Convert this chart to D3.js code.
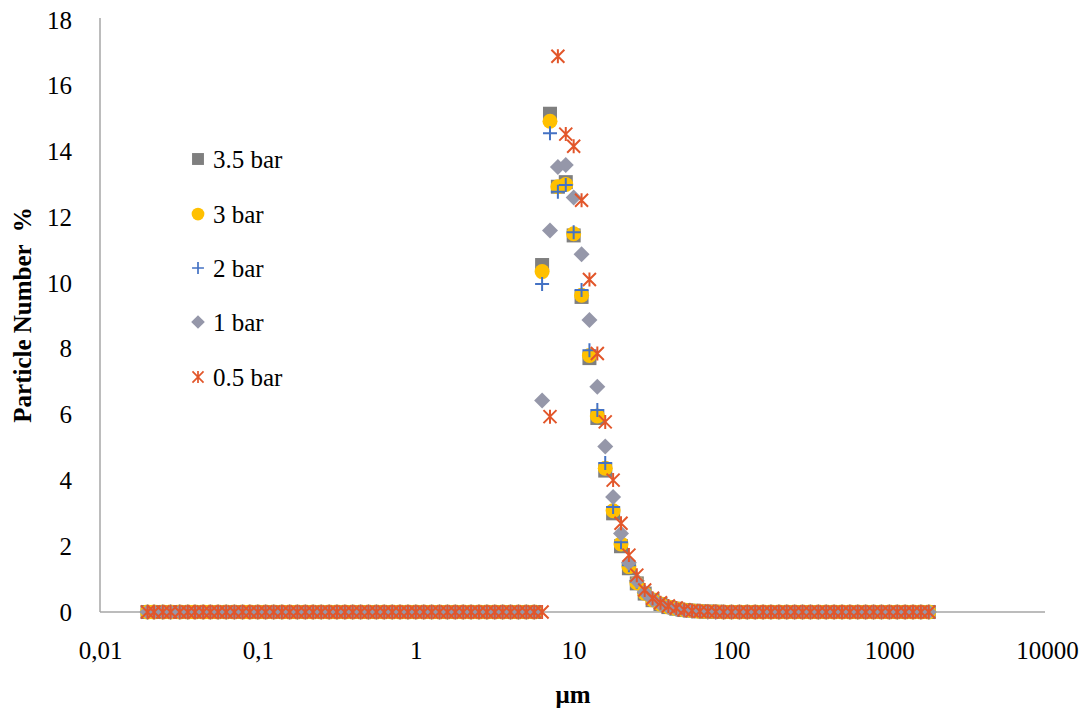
<!DOCTYPE html>
<html>
<head>
<meta charset="utf-8">
<script src="https://cdn.jsdelivr.net/npm/d3@7"></script>
<style>
  body { margin: 0; background: #fff; }
  svg text { font-family: "Liberation Serif", "Times New Roman", serif; fill: #000; }
</style>
</head>
<body>
<svg id="chart" width="1086" height="711"></svg>
<script>
// ---- data ----
const sizes = [
  0.020,0.022,0.025,0.028,0.032,0.036,0.040,0.045,0.050,0.056,
  0.063,0.071,0.080,0.089,0.100,0.112,0.126,0.142,0.159,0.178,
  0.200,0.224,0.252,0.283,0.317,0.356,0.399,0.448,0.502,0.564,
  0.632,0.710,0.796,0.893,1.002,1.125,1.262,1.416,1.589,1.783,
  2.000,2.244,2.518,2.825,3.170,3.557,3.991,4.477,5.024,5.637,
  6.325,7.096,7.962,8.934,10.024,11.247,12.619,14.159,15.887,17.825,
  20.000,22.440,25.179,28.251,31.698,35.566,39.905,44.774,50.238,56.368,
  63.246,70.963,79.621,89.337,100.237,112.468,126.191,141.589,158.866,178.250,
  200.000,224.404,251.785,282.508,316.979,355.656,399.052,447.744,502.377,563.677,
  632.456,709.627,796.214,893.367,1002.374,1124.683,1261.915,1415.892,1588.656,1782.502
];
const bar35 = [
  0,0,0,0,0,0,0,0,0,0, 0,0,0,0,0,0,0,0,0,0, 0,0,0,0,0,0,0,0,0,0, 0,0,0,0,0,0,0,0,0,0, 0,0,0,0,0,0,0,0,0,0,
  10.55,15.15,12.93,13.07,11.45,9.58,7.72,5.90,4.30,3.00,
  2.00,1.33,0.87,0.56,0.36,0.24,0.15,0.10,0.06,0.04,
  0.02,0.01,0.01,0,0,0,0,0,0,0, 0,0,0,0,0,0,0,0,0,0, 0,0,0,0,0,0,0,0,0,0
];
const bar3 = [
  0,0,0,0,0,0,0,0,0,0, 0,0,0,0,0,0,0,0,0,0, 0,0,0,0,0,0,0,0,0,0, 0,0,0,0,0,0,0,0,0,0, 0,0,0,0,0,0,0,0,0,0,
  10.35,14.92,12.93,13.00,11.50,9.63,7.80,5.96,4.37,3.08,
  2.07,1.38,0.89,0.57,0.37,0.24,0.15,0.10,0.06,0.04,
  0.02,0.01,0.01,0,0,0,0,0,0,0, 0,0,0,0,0,0,0,0,0,0, 0,0,0,0,0,0,0,0,0,0
];
const bar2 = [
  0,0,0,0,0,0,0,0,0,0, 0,0,0,0,0,0,0,0,0,0, 0,0,0,0,0,0,0,0,0,0, 0,0,0,0,0,0,0,0,0,0, 0,0,0,0,0,0,0,0,0,0,
  9.97,14.56,12.78,12.98,11.55,9.79,7.96,6.14,4.53,3.19,
  2.12,1.42,0.92,0.59,0.38,0.25,0.16,0.10,0.06,0.04,
  0.02,0.01,0.01,0,0,0,0,0,0,0, 0,0,0,0,0,0,0,0,0,0, 0,0,0,0,0,0,0,0,0,0
];
const bar1 = [
  0,0,0,0,0,0,0,0,0,0, 0,0,0,0,0,0,0,0,0,0, 0,0,0,0,0,0,0,0,0,0, 0,0,0,0,0,0,0,0,0,0, 0,0,0,0,0,0,0,0,0,0,
  6.43,11.60,13.53,13.59,12.60,10.88,8.88,6.85,5.03,3.50,
  2.39,1.50,0.95,0.60,0.38,0.24,0.15,0.09,0.05,0.03,
  0.02,0.01,0,0,0,0,0,0,0,0, 0,0,0,0,0,0,0,0,0,0, 0,0,0,0,0,0,0,0,0,0
];
const bar05 = [
  0,0,0,0,0,0,0,0,0,0, 0,0,0,0,0,0,0,0,0,0, 0,0,0,0,0,0,0,0,0,0, 0,0,0,0,0,0,0,0,0,0, 0,0,0,0,0,0,0,0,0,0,
  0,5.94,16.90,14.53,14.16,12.52,10.11,7.86,5.78,4.01,
  2.70,1.73,1.12,0.67,0.42,0.28,0.18,0.12,0.07,0.04,
  0.025,0.015,0.01,0,0,0,0,0,0,0, 0,0,0,0,0,0,0,0,0,0, 0,0,0,0,0,0,0,0,0,0
];
const seriesNames = ["3.5 bar", "3 bar", "2 bar", "1 bar", "0.5 bar"];
const seriesValues = [bar35, bar3, bar2, bar1, bar05];
const xTickValues = [0.01, 0.1, 1, 10, 100, 1000, 10000];
const xTickLabels = ["0,01", "0,1", "1", "10", "100", "1000", "10000"];
const yTickValues = [0, 2, 4, 6, 8, 10, 12, 14, 16, 18];
const xTitle = "μm";
const yTitle = "Particle Number  %";

// ---- styles ----
const styles = [
  { type: "square",  color: "#7f7f7f" },
  { type: "circle",  color: "#ffc000" },
  { type: "plus",    color: "#4472c4" },
  { type: "diamond", color: "#9597a9" },
  { type: "star",    color: "#e2562a" }
];

const svg = d3.select("#chart");
const plot = { left: 100, right: 1047, top: 20, bottom: 612 };

const x = d3.scaleLog().domain([0.01, 10000]).range([plot.left, plot.right]);
const y = d3.scaleLinear().domain([0, 18]).range([plot.bottom, plot.top]);

// axes
const xAxis = d3.axisBottom(x).tickValues(xTickValues)
  .tickFormat((d, i) => xTickLabels[i]).tickSize(0).tickPadding(29);
const gx = svg.append("g").attr("transform", `translate(0,${plot.bottom})`).call(xAxis);
gx.select(".domain").attr("stroke", "#a6a6a6").attr("stroke-width", 1.5)
  .attr("d", `M${plot.left},0H${plot.right - 2}`);
gx.selectAll("text").attr("font-size", 25).attr("font-family", "Liberation Serif");

const yAxis = d3.axisLeft(y).tickValues(yTickValues).tickSize(0).tickPadding(28);
const gy = svg.append("g").attr("transform", `translate(${plot.left},0)`).call(yAxis);
gy.select(".domain").attr("stroke", "#a6a6a6").attr("stroke-width", 1.5)
  .attr("d", `M0,${plot.top - 2}V${plot.bottom}`);
gy.selectAll("text").attr("font-size", 25).attr("font-family", "Liberation Serif");

// titles
svg.append("text").attr("x", 573).attr("y", 703).attr("text-anchor", "middle")
  .attr("font-size", 25).attr("font-weight", "bold").text(xTitle);
svg.append("text").attr("transform", "translate(31,315) rotate(-90)")
  .attr("text-anchor", "middle").attr("font-size", 25).attr("font-weight", "bold")
  .style("white-space", "pre").text(yTitle);

// marker drawing
function drawMarker(g, type, color) {
  if (type === "square") {
    g.append("rect").attr("x", -7).attr("y", -7).attr("width", 14).attr("height", 14).attr("fill", color);
  } else if (type === "circle") {
    g.append("circle").attr("r", 7.5).attr("fill", color);
  } else if (type === "plus") {
    g.append("path").attr("d", "M-7,0H7M0,-7V7").attr("stroke", color).attr("stroke-width", 2).attr("fill", "none");
  } else if (type === "diamond") {
    g.append("path").attr("d", "M0,-8L8,0L0,8L-8,0Z").attr("fill", color);
  } else if (type === "star") {
    g.append("path").attr("d", "M-6.5,-6.5L6.5,6.5M-6.5,6.5L6.5,-6.5M0,-7V7")
      .attr("stroke", color).attr("stroke-width", 2).attr("fill", "none");
  }
}

// series
seriesValues.forEach((vals, si) => {
  const st = styles[si];
  const g = svg.append("g").attr("class", "series");
  vals.forEach((v, i) => {
    const m = g.append("g").attr("transform", `translate(${x(sizes[i])},${y(v)})`);
    drawMarker(m, st.type, st.color);
  });
});

// legend
const legendY = [159, 214, 268, 322, 377];
seriesNames.forEach((name, i) => {
  const g = svg.append("g").attr("transform", `translate(198,${legendY[i]})`);
  const m = g.append("g").attr("transform", "scale(0.85)");
  drawMarker(m, styles[i].type, styles[i].color);
  g.append("text").attr("x", 15).attr("y", 0).attr("dy", "0.35em")
    .attr("font-size", 25).text(name);
});
</script>
</body>
</html>
